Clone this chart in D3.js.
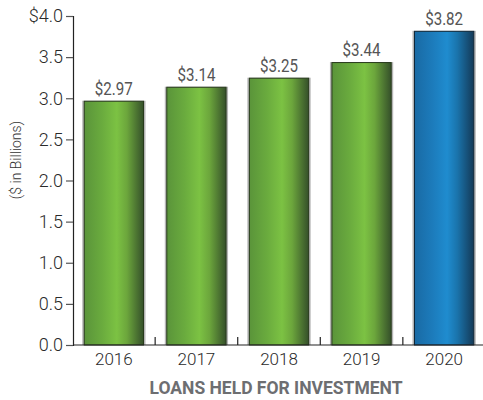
<!DOCTYPE html>
<html>
<head>
<meta charset="utf-8">
<script src="https://cdnjs.cloudflare.com/ajax/libs/d3/7.8.5/d3.min.js"></script>
<style>
  body { margin: 0; background: #fff; }
  text { font-family: Roboto, "Liberation Sans", sans-serif; }
</style>
</head>
<body>
<script>
let years = ['2016', '2017', '2018', '2019', '2020']
let values = [2.97, 3.14, 3.25, 3.44, 3.82]
let valueLabels = ['$2.97', '$3.14', '$3.25', '$3.44', '$3.82']
let yTicks = [0, 0.5, 1, 1.5, 2, 2.5, 3, 3.5, 4]

let w = 483
let h = 400

let svg = d3.select('body').append('svg').attr('width', w).attr('height', h)

let x = d3.scaleBand().domain(years).range([73, 485]).paddingInner(0.27).paddingOuter(0.13)
let y = d3.scaleLinear().domain([0, 4]).range([345, 16])

// gradients
let defs = svg.append('defs')
let grads = {
  green: [['0%', '#5a943a'], ['30%', '#6aab3e'], ['55%', '#7cc243'], ['72%', '#6ca63c'], ['100%', '#35502a']],
  blue: [['0%', '#196aa4'], ['30%', '#1c7bbb'], ['55%', '#1f8ccf'], ['72%', '#1a74ac'], ['100%', '#143a58']]
}
Object.keys(grads).forEach(k => {
  let g = defs.append('linearGradient').attr('id', 'g-' + k)
    .attr('x1', 0).attr('x2', 1).attr('y1', 0).attr('y2', 0)
  grads[k].forEach(s => g.append('stop').attr('offset', s[0]).attr('stop-color', s[1]))
})

// shadow behind bars
svg.selectAll('rect.shadow')
  .data(values)
  .enter()
  .append('rect')
  .attr('class', 'shadow')
  .attr('x', (d, i) => x(years[i]) - 1.5)
  .attr('y', d => y(d))
  .attr('width', x.bandwidth() + 3)
  .attr('height', d => y(0) - y(d))
  .attr('fill', '#b5b5b5')

svg.selectAll('rect.bar')
  .data(values)
  .enter()
  .append('rect')
  .attr('class', 'bar')
  .attr('x', (d, i) => x(years[i]) + 0.5)
  .attr('y', d => y(d) + 0.5)
  .attr('width', x.bandwidth() - 1)
  .attr('height', d => y(0) - y(d) - 0.5)
  .attr('fill', (d, i) => i == 4 ? 'url(#g-blue)' : 'url(#g-green)')
  .attr('stroke', (d, i) => i == 4 ? '#10283a' : '#283a1c')
  .attr('stroke-width', 1)

// value labels
svg.selectAll('text.val')
  .data(values)
  .enter()
  .append('text')
  .attr('class', 'val')
  .text((d, i) => valueLabels[i])
  .attr('x', (d, i) => x(years[i]) + x.bandwidth() / 2)
  .attr('y', d => y(d) - 6)
  .attr('text-anchor', 'middle')
  .attr('font-size', '19px')
  .attr('textLength', 38)
  .attr('lengthAdjust', 'spacingAndGlyphs')
  .attr('fill', '#555')

// y axis
let yAxis = svg.append('g').attr('transform', 'translate(73,0)')
  .call(d3.axisLeft(y).tickValues(yTicks).tickSize(7).tickPadding(3)
    .tickFormat(d => d == 4 ? '$4.0' : d3.format('.1f')(d)))
yAxis.select('.domain').attr('stroke', '#222').attr('stroke-width', 1.2)
yAxis.selectAll('.tick line').attr('stroke', '#555').attr('stroke-width', 1.2)
yAxis.selectAll('.tick text').attr('font-size', '18px').attr('fill', '#2a2a2a')
  .attr('font-family', 'Roboto, sans-serif').attr('font-weight', 300)

// x axis baseline and separators
svg.append('line').attr('x1', 73).attr('x2', w).attr('y1', y(0)).attr('y2', y(0))
  .attr('stroke', '#222').attr('stroke-width', 1.2)
svg.selectAll('line.sep')
  .data(years.slice(1))
  .enter()
  .append('line')
  .attr('class', 'sep')
  .attr('x1', d => x(d) - x.step() * x.paddingInner() / 2)
  .attr('x2', d => x(d) - x.step() * x.paddingInner() / 2)
  .attr('y1', y(0) - 8)
  .attr('y2', y(0))
  .attr('stroke', '#222')
  .attr('stroke-width', 1.2)

svg.selectAll('text.year')
  .data(years)
  .enter()
  .append('text')
  .attr('class', 'year')
  .text(d => d)
  .attr('x', d => x(d) + x.bandwidth() / 2)
  .attr('y', 365)
  .attr('text-anchor', 'middle')
  .attr('font-size', '17px')
  .attr('font-weight', 300)
  .attr('fill', '#2a2a2a')

// y label
svg.append('text')
  .text('($ in Billions)')
  .attr('transform', 'translate(21,160) rotate(-90)')
  .attr('text-anchor', 'middle')
  .attr('font-size', '14px')
  .attr('font-weight', 300)
  .attr('fill', '#333')

// title
svg.append('text')
  .text('LOANS HELD FOR INVESTMENT')
  .attr('x', 276)
  .attr('y', 394)
  .attr('text-anchor', 'middle')
  .attr('font-size', '19px')
  .attr('font-weight', 'bold')
  .attr('textLength', 253)
  .attr('lengthAdjust', 'spacingAndGlyphs')
  .attr('fill', '#6d6e71')
</script>
</body>
</html>
